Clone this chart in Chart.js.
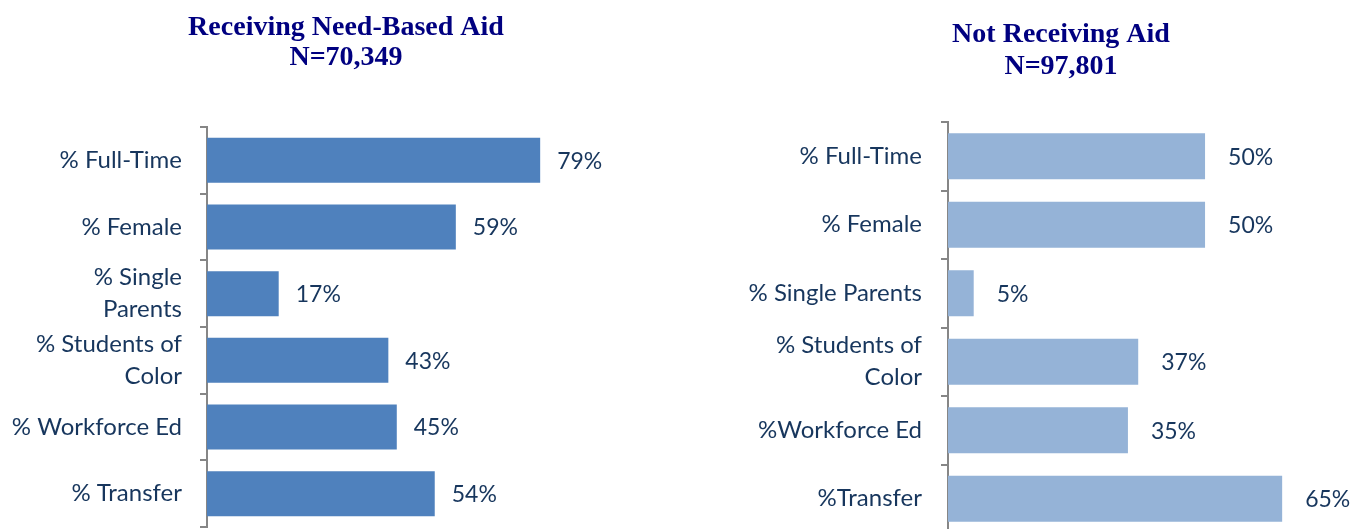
<!DOCTYPE html>
<html>
<head>
<meta charset="utf-8">
<script src="https://cdn.jsdelivr.net/npm/chart.js@4"></script>
<style>
  html, body { margin: 0; padding: 0; background: #fff; overflow: hidden; }
  body { width: 1356px; height: 529px; position: relative; overflow: hidden; }
  #aidChart { position: absolute; left: 0; top: 0; }
  #noAidChart { position: absolute; left: 700px; top: 0; }
</style>
</head>
<body>
<canvas id="aidChart" width="692" height="529"></canvas>
<canvas id="noAidChart" width="722" height="535"></canvas>
<script>
// Data
const aidTitle = ['Receiving Need-Based Aid', 'N=70,349'];
const aidCategories = ['% Full-Time', '% Female', ['% Single', 'Parents'], ['% Students of', 'Color'], '% Workforce Ed', '% Transfer'];
const aidValues = [79, 59, 17, 43, 45, 54];

const noAidTitle = ['Not Receiving Aid', 'N=97,801'];
const noAidCategories = ['% Full-Time', '% Female', '% Single Parents', ['% Students of', 'Color'], '%Workforce Ed', '%Transfer'];
const noAidValues = [50, 50, 5, 37, 35, 65];

const textColor = '#17365D';
const titleColor = '#000080';
const axisGray = '#868686';

// Draws the "NN%" labels just past the end of each bar
const valueLabels = {
    id: 'valueLabels',
    afterDatasetsDraw(chart, args, opts) {
        const ctx = chart.ctx;
        const meta = chart.getDatasetMeta(0);
        ctx.save();
        ctx.font = '23px Lato, "Open Sans", sans-serif';
        ctx.fillStyle = textColor;
        ctx.textAlign = 'left';
        ctx.textBaseline = 'middle';
        meta.data.forEach((bar, i) => {
            const v = chart.data.datasets[0].data[i];
            ctx.fillText(v + '%', bar.x + opts.offset, bar.y + 1);
        });
        ctx.restore();
    }
};

function createBarChart(id, title, labels, values, color, opt) {
    const ctx = document.getElementById(id).getContext('2d');
    return new Chart(ctx, {
        type: 'bar',
        data: {
            labels: labels,
            datasets: [{
                data: values,
                backgroundColor: color,
                barPercentage: opt.barPct,
                categoryPercentage: 1
            }]
        },
        plugins: [valueLabels],
        options: {
            indexAxis: 'y',
            responsive: false,
            animation: false,
            devicePixelRatio: 1,
            layout: { padding: { left: 0, right: 0, top: 0, bottom: 2 } },
            plugins: {
                legend: { display: false },
                tooltip: { enabled: false },
                title: {
                    display: true,
                    text: title,
                    color: titleColor,
                    font: { family: '"Liberation Serif", "Times New Roman", serif', size: 28, weight: 'bold', lineHeight: opt.titleLine / 28 },
                    padding: { top: opt.titleTop, bottom: opt.titleBottom }
                },
                valueLabels: { offset: opt.labelOffset }
            },
            scales: {
                x: {
                    display: false,
                    min: 0,
                    max: opt.xMax
                },
                y: {
                    afterFit(scale) {
                        scale.width = opt.axisWidth;
                        scale.paddingTop = 0;
                        scale.paddingBottom = 0;
                    },
                    grid: {
                        drawOnChartArea: false,
                        drawTicks: true,
                        tickLength: 7,
                        color: axisGray,
                        lineWidth: 2,
                        offset: true
                    },
                    border: { display: true, color: axisGray, width: 2 },
                    ticks: {
                        autoSkip: false,
                        color: textColor,
                        padding: opt.tickPad,
                        font: { family: 'Lato, "Open Sans", sans-serif', size: 24, lineHeight: 32 / 24 }
                    }
                }
            }
        }
    });
}

createBarChart('aidChart', aidTitle, aidCategories, aidValues, '#4F81BD', {
    barPct: 0.675, titleLine: 30, titleTop: 13, titleBottom: 54,
    labelOffset: 17, xMax: 115, axisWidth: 207, tickPad: 18
});

createBarChart('noAidChart', noAidTitle, noAidCategories, noAidValues, '#95B3D7', {
    barPct: 0.67, titleLine: 32, titleTop: 19, titleBottom: 39,
    labelOffset: 23, xMax: 92.2, axisWidth: 248, tickPad: 19
});
</script>
</body>
</html>
